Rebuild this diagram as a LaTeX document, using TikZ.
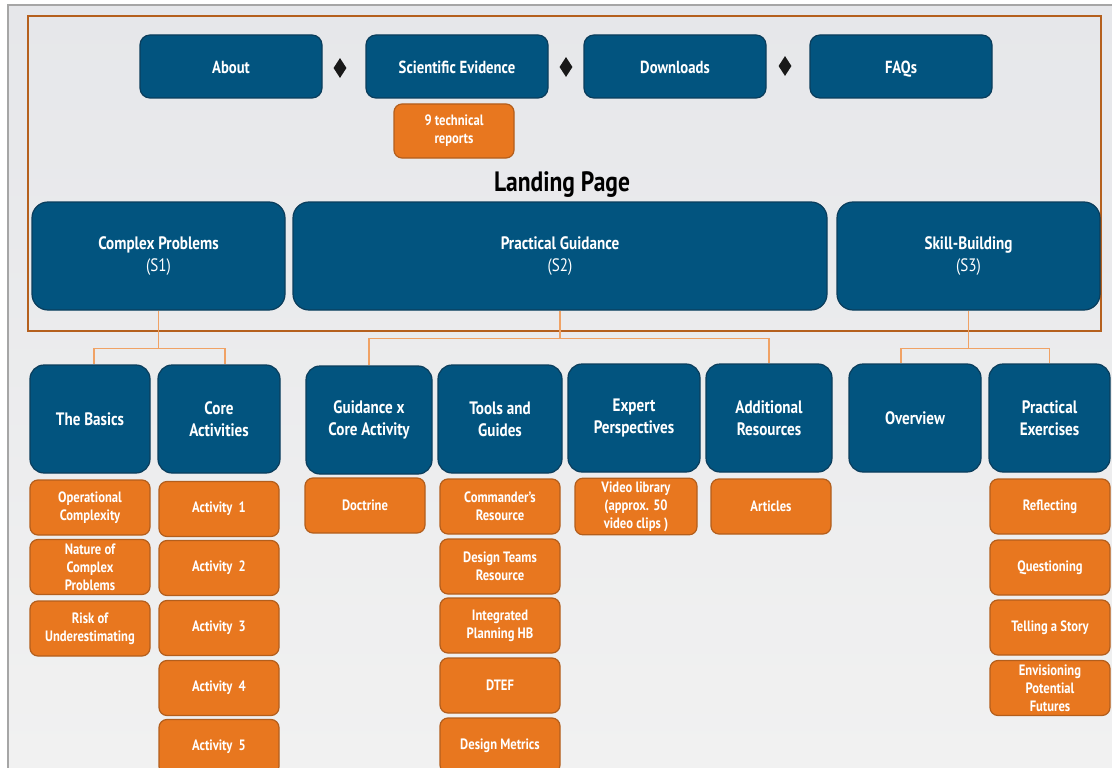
\documentclass[tikz,border=0pt]{standalone}
\usepackage{fontspec}
\setmainfont{PT Sans}[FakeStretch=0.84]
\usepackage{tikz}
\usetikzlibrary{shapes.geometric}

\definecolor{navy}{HTML}{02547F}
\definecolor{navyline}{HTML}{0A3D5C}
\definecolor{amber}{HTML}{E8771F}
\definecolor{amberline}{HTML}{B35E1C}
\definecolor{frameline}{HTML}{B5601E}
\definecolor{linkline}{HTML}{F0A265}
\definecolor{papertop}{HTML}{E6E7EA}
\definecolor{paperbottom}{HTML}{F1F1F1}

\tikzstyle{topbox} = [draw=navyline, fill=navy, line width=1.2pt, rounded corners=10pt, minimum width=182pt, minimum height=63pt, text height=14pt, text depth=0pt, text=white, font=\fontsize{17.5}{20}\selectfont\bfseries]
\tikzstyle{section} = [draw=navyline, fill=navy, line width=1.2pt, rounded corners=16pt, minimum height=108pt, align=center, text=white, font=\fontsize{18}{22}\selectfont]
\tikzstyle{topic} = [draw=navyline, fill=navy, line width=1.2pt, rounded corners=14pt, minimum height=108pt, align=center, text=white, font=\fontsize{18}{22}\selectfont\bfseries]
\tikzstyle{item} = [draw=amberline, fill=amber, line width=1.2pt, rounded corners=8pt, minimum width=120pt, minimum height=55pt, align=center, text=white, font=\fontsize{15}{18}\selectfont\bfseries]
\tikzstyle{sep} = [diamond, fill=black!90, inner sep=0pt, minimum width=13pt, minimum height=20pt]
\tikzstyle{link} = [draw=linkline, line width=1.3pt]

\begin{document}
\begin{tikzpicture}[x=1pt, y=-1pt]

	\useasboundingbox (0,0) rectangle (1112,768);
	\clip (0,0) rectangle (1112,768);
	\fill[white] (0,0) rectangle (1112,768);
	\shade[top color=papertop, bottom color=paperbottom] (8,5) rectangle (1112,768);
	\draw[black!35, line width=2pt] (8,768) -- (8,5) -- (1112,5);
	\draw[frameline, line width=1.8pt] (28,16) rectangle (1101,331);

	% menu
	\node[topbox] (about) at (231, 66.5) {About} ;
	\node[topbox] (science) at (457, 66.5) {Scientific Evidence} ;
	\node[topbox] (downloads) at (675, 66.5) {Downloads} ;
	\node[topbox] (faqs) at (901, 66.5) {FAQs} ;
	\node[sep] (d1) at (340, 68) {} ;
	\node[sep] (d2) at (566, 67) {} ;
	\node[sep] (d3) at (785, 66) {} ;
	\node[item, minimum height=54pt] (reports) at (454, 131) {9 technical\\reports} ;

	\node[font=\fontsize{28}{30}\selectfont\bfseries] (landing) at (562, 185) {Landing Page} ;

	% sections
	\node[section, minimum width=253pt] (s1) at (158.5, 256) {{\bfseries Complex Problems}\\(S1)} ;
	\node[section, minimum width=534pt] (s2) at (560, 256) {{\bfseries Practical Guidance}\\(S2)} ;
	\node[section, minimum width=263pt] (s3) at (968.5, 256) {{\bfseries Skill-Building}\\(S3)} ;

	% topics
	\node[topic, minimum width=120pt] (basics) at (90, 419) {The Basics} ;
	\node[topic, minimum width=122pt] (core) at (219, 419) {Core\\Activities} ;
	\node[topic, minimum width=126pt] (crossing) at (369, 420) {Guidance x\\Core Activity} ;
	\node[topic, minimum width=124pt] (tools) at (500, 419) {Tools and\\Guides} ;
	\node[topic, minimum width=132pt] (expert) at (634, 418) {Expert\\Perspectives} ;
	\node[topic, minimum width=126pt] (extra) at (769, 418) {Additional\\Resources} ;
	\node[topic, minimum width=132pt] (overview) at (915, 418) {Overview} ;
	\node[topic, minimum width=121pt] (exercises) at (1049.5, 418) {Practical\\Exercises} ;

	% S1 items
	\node[item] (opcomplex) at (90, 507.5) {Operational\\Complexity} ;
	\node[item] (nature) at (90, 567) {Nature of\\Complex\\Problems} ;
	\node[item] (risk) at (90, 628.5) {Risk of\\Underestimating} ;
	\node[item] (act1) at (219, 509) {Activity\ \ 1} ;
	\node[item] (act2) at (219, 568) {Activity\ \ 2} ;
	\node[item] (act3) at (219, 628) {Activity\ \ 3} ;
	\node[item] (act4) at (219, 688) {Activity\ \ 4} ;
	\node[item] (act5) at (219, 747) {Activity\ \ 5} ;

	% S2 items
	\node[item] (doctrine) at (365, 505.5) {Doctrine} ;
	\node[item] (commander) at (500, 506.5) {Commander's\\Resource} ;
	\node[item] (teams) at (500, 566.5) {Design Teams\\Resource} ;
	\node[item] (planning) at (500, 625.5) {Integrated\\Planning HB} ;
	\node[item] (dtef) at (500, 685.5) {DTEF} ;
	\node[item] (metrics) at (500, 745.5) {Design Metrics} ;
	\node[item, minimum width=122pt] (videos) at (636, 506.5) {Video library\\(approx. 50\\video clips )} ;
	\node[item] (articles) at (771, 506.5) {Articles} ;

	% S3 items
	\node[item] (reflect) at (1050, 506.5) {Reflecting} ;
	\node[item] (question) at (1050, 567.5) {Questioning} ;
	\node[item] (story) at (1050, 627.5) {Telling a Story} ;
	\node[item] (futures) at (1050, 688) {Envisioning\\Potential\\Futures} ;

	% links
	\draw[link] (s1.south) -- ++(0,38) coordinate (hub1) ;
	\draw[link] (hub1) -| ([xshift=4pt]basics.north) ;
	\draw[link] (hub1) -| ([xshift=6pt]core.north) ;
	\draw[link] (s2.south) -- ++(0,28) coordinate (hub2) ;
	\draw[link] (hub2) -| (crossing.north) ;
	\draw[link] (hub2) -| (extra.north) ;
	\draw[link] (s3.south) -- ++(0,38) coordinate (hub3) ;
	\draw[link] (hub3) -| ([xshift=-14pt]overview.north) ;
	\draw[link] (hub3) -| (exercises.north) ;
\end{tikzpicture}
\end{document}
